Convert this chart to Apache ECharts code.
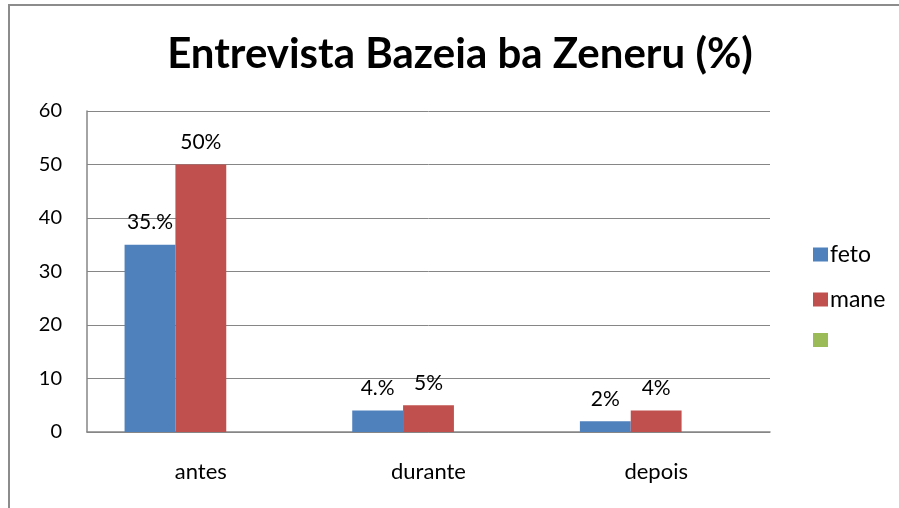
<!DOCTYPE html>
<html>
<head>
<meta charset="UTF-8">
<title>Entrevista Bazeia ba Zeneru</title>
<script src="https://cdn.jsdelivr.net/npm/echarts@6/dist/echarts.min.js"></script>
</head>
<body style="margin:0;background:#fff;">
<div id="container" style="width:899px;height:508px;"></div>
<script>
var categories = ['antes', 'durante', 'depois'];
var fetoValues = [35, 4, 2];
var maneValues = [50, 5, 4];
var emptyValues = [null, null, null];
var fetoLabels = ['35.%', '4.%', '2%'];
var maneLabels = ['50%', '5%', '4%'];
var yTicks = { min: 0, max: 60, interval: 10 };

var FONT = 'Lato';
var myChart = echarts.init(document.getElementById('container'));

function labelOf(texts) {
  return {
    show: true,
    position: 'top',
    distance: 12,
    color: '#000',
    fontFamily: FONT,
    fontSize: 21,
    formatter: function (p) { return texts[p.dataIndex]; }
  };
}

var option = {
  animation: false,
  backgroundColor: '#fff',
  graphic: [{
    type: 'rect',
    shape: { x: 9, y: 5, width: 1000, height: 600 },
    style: { fill: 'none', stroke: '#8c8c8c', lineWidth: 2 },
    silent: true
  }],
  title: {
    text: 'Entrevista Bazeia ba Zeneru (%)',
    left: 455,
    top: 28,
    textAlign: 'center',
    textStyle: { fontFamily: FONT, fontWeight: 'bold', fontSize: 42, color: '#000' }
  },
  legend: {
    orient: 'vertical',
    left: 808,
    top: 238,
    itemWidth: 15,
    itemHeight: 14,
    itemGap: 22,
    icon: 'rect',
    data: ['feto', 'mane', 'vazio'],
    formatter: function (name) { return name === 'vazio' ? '' : name; },
    textStyle: { fontFamily: FONT, fontSize: 23, color: '#000', padding: [0, 0, 0, -3] }
  },
  grid: { left: 87, right: 129, top: 111, bottom: 76 },
  xAxis: {
    type: 'category',
    data: categories,
    axisLine: { lineStyle: { color: '#868686', width: 1.5 } },
    axisTick: { show: false },
    axisLabel: { margin: 29, color: '#000', fontFamily: FONT, fontSize: 22 }
  },
  yAxis: {
    type: 'value',
    min: yTicks.min,
    max: yTicks.max,
    interval: yTicks.interval,
    axisLine: { show: true, lineStyle: { color: '#868686', width: 1.5 } },
    axisTick: { show: false },
    splitLine: { lineStyle: { color: '#868686', width: 1 } },
    axisLabel: { margin: 25, color: '#000', fontFamily: FONT, fontSize: 20 }
  },
  series: [
    {
      name: 'feto', type: 'bar', data: fetoValues,
      itemStyle: { color: '#4F81BD' },
      barGap: '0%', barCategoryGap: '33%',
      label: labelOf(fetoLabels)
    },
    {
      name: 'mane', type: 'bar', data: maneValues,
      itemStyle: { color: '#C0504D' },
      label: labelOf(maneLabels)
    },
    {
      name: 'vazio', type: 'bar', data: emptyValues,
      itemStyle: { color: '#9BBB59' }
    }
  ]
};

myChart.setOption(option);
</script>
</body>
</html>
